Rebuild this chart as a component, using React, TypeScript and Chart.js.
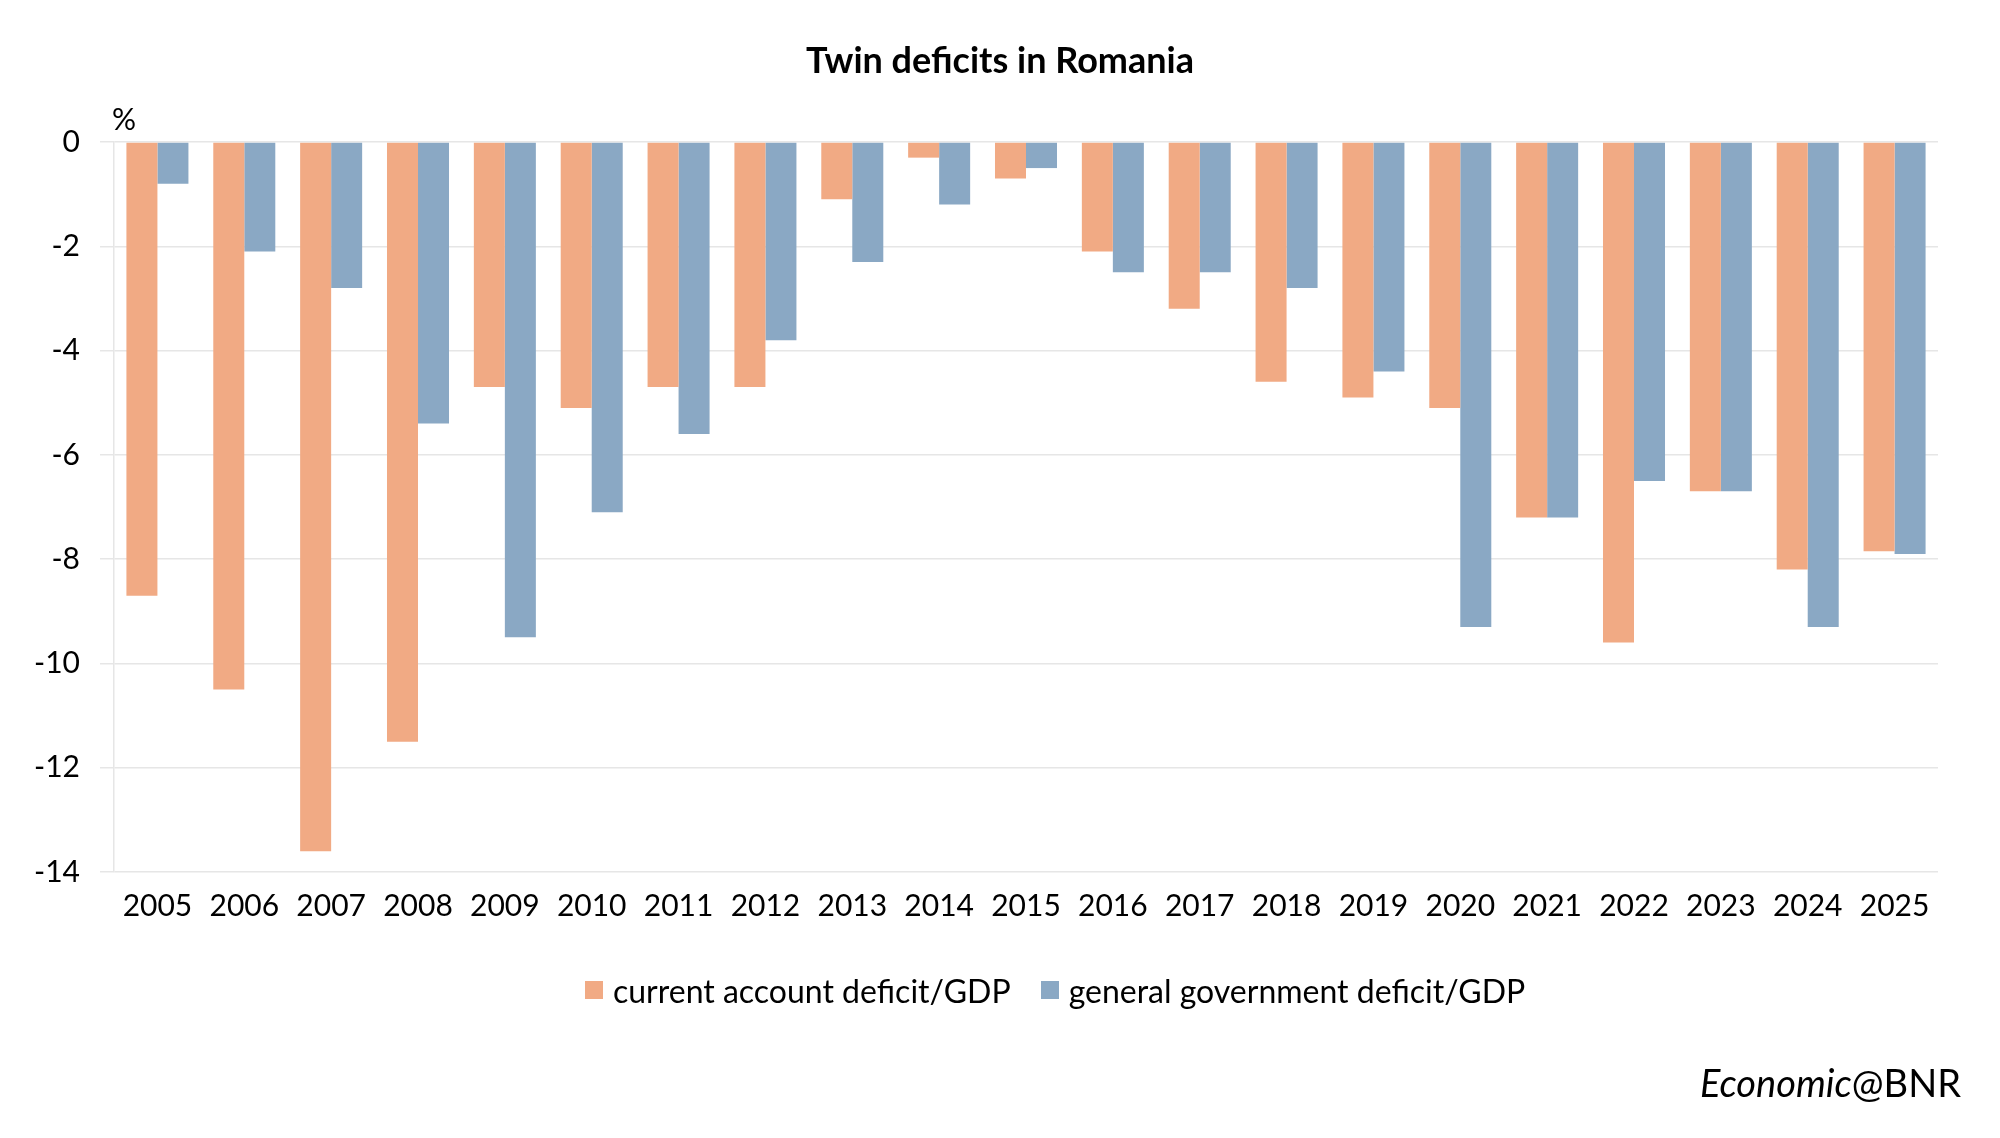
import { useEffect, useRef } from 'react'
import Chart from 'chart.js/auto'

const years = ['2005', '2006', '2007', '2008', '2009', '2010', '2011', '2012', '2013', '2014', '2015', '2016', '2017', '2018', '2019', '2020', '2021', '2022', '2023', '2024', '2025']
const currentAccount = [-8.7, -10.5, -13.6, -11.5, -4.7, -5.1, -4.7, -4.7, -1.1, -0.3, -0.7, -2.1, -3.2, -4.6, -4.9, -5.1, -7.2, -9.6, -6.7, -8.2, -7.85]
const govDeficit = [-0.8, -2.1, -2.8, -5.4, -9.5, -7.1, -5.6, -3.8, -2.3, -1.2, -0.5, -2.5, -2.5, -2.8, -4.4, -9.3, -7.2, -6.5, -6.7, -9.3, -7.9]
const seriesNames = ['current account deficit/GDP', 'general government deficit/GDP']
const seriesColors = ['#F1AA84', '#8AA8C4']
const titleText = 'Twin deficits in Romania'

const font = 'Lato, "Noto Sans", sans-serif'

export default function App() {
  const canvasRef = useRef<HTMLCanvasElement>(null)
  const chartRef = useRef<Chart | null>(null)

  useEffect(() => {
    document.body.style.margin = '0'
    if (!canvasRef.current) return
    if (chartRef.current) chartRef.current.destroy()

    chartRef.current = new Chart(canvasRef.current, {
      type: 'bar',
      data: {
        labels: years,
        datasets: [
          { label: seriesNames[0], data: currentAccount, backgroundColor: seriesColors[0] },
          { label: seriesNames[1], data: govDeficit, backgroundColor: seriesColors[1] }
        ]
      },
      options: {
        responsive: true,
        maintainAspectRatio: false,
        animation: false,
        datasets: { bar: { categoryPercentage: 0.714, barPercentage: 1.0 } },
        layout: { padding: { left: 0, right: 62, top: 142, bottom: 220 } },
        plugins: {
          legend: { display: false },
          tooltip: { enabled: false },
          title: { display: false }
        },
        scales: {
          x: {
            grid: { display: false },
            border: { display: false },
            ticks: { color: '#000', font: { family: font, size: 30 }, padding: 8, maxRotation: 0, autoSkip: false },
            afterFit: (s: any) => { s.height = 46 }
          },
          y: {
            min: -14,
            max: 0,
            grid: { color: '#E6E6E6', lineWidth: 1.5, tickLength: 14 },
            border: { display: true, color: '#E6E6E6', width: 1.5 },
            ticks: { stepSize: 2, color: '#000', font: { family: font, size: 30 }, padding: 20 },
            afterFit: (s: any) => { s.width = 114 }
          }
        }
      }
    })

    return () => {
      if (chartRef.current) {
        chartRef.current.destroy()
        chartRef.current = null
      }
    }
  }, [])

  return (
    <div style={{ position: 'relative', width: 2000, height: 1138, background: '#fff', fontFamily: font, color: '#000' }}>
      <canvas ref={canvasRef} />
      <div style={{ position: 'absolute', left: 0, width: 2000, top: 37, textAlign: 'center', fontSize: 36, lineHeight: '44px', fontWeight: 'bold' }}>
        {titleText}
      </div>
      <div style={{ position: 'absolute', left: 112, top: 100, fontSize: 30, lineHeight: '36px' }}>%</div>
      <div style={{ position: 'absolute', left: 585, top: 970, height: 40, display: 'flex', alignItems: 'center', fontSize: 32 }}>
        {seriesNames.map((name, i) => (
          <div key={name} style={{ display: 'flex', alignItems: 'center', marginRight: 30 }}>
            <span style={{ width: 18, height: 18, background: seriesColors[i], marginRight: 10, display: 'inline-block' }} />
            <span>{name}</span>
          </div>
        ))}
      </div>
      <div style={{ position: 'absolute', right: 39, top: 1060, fontSize: 38, lineHeight: '44px' }}>
        <i>Economic</i>@BNR
      </div>
    </div>
  )
}
